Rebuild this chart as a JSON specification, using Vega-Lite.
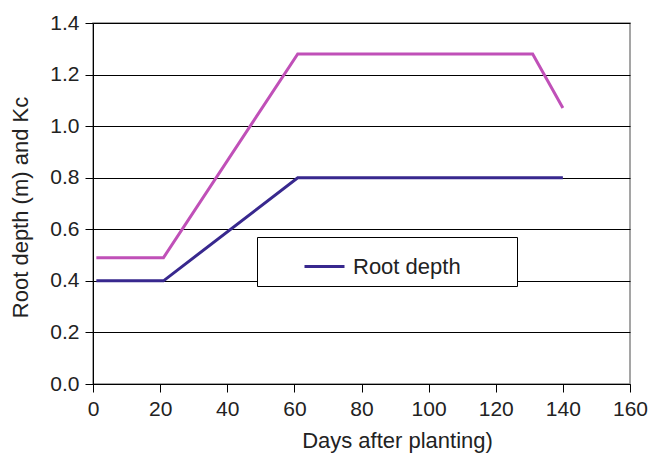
{
  "$schema": "https://vega.github.io/schema/vega-lite/v6.json",
  "width": 537,
  "height": 361,
  "autosize": "none",
  "padding": {"left": 93, "top": 23, "right": 21, "bottom": 73},
  "background": "white",
  "config": {
    "font": "Liberation Sans",
    "view": {"stroke": "#888888", "strokeWidth": 1.5},
    "axis": {"labelFont": "Liberation Sans", "titleFont": "Liberation Sans", "labelColor": "#222", "titleColor": "#222", "titleFontWeight": "normal"}
  },
  "data": {
    "values": [
      {"day": 1, "value": 0.4, "series": "Root depth"},
      {"day": 21, "value": 0.4, "series": "Root depth"},
      {"day": 61, "value": 0.8, "series": "Root depth"},
      {"day": 140, "value": 0.8, "series": "Root depth"},
      {"day": 1, "value": 0.49, "series": "Kc"},
      {"day": 21, "value": 0.49, "series": "Kc"},
      {"day": 61, "value": 1.28, "series": "Kc"},
      {"day": 131, "value": 1.28, "series": "Kc"},
      {"day": 140, "value": 1.07, "series": "Kc"}
    ]
  },
  "mark": {"type": "line", "strokeWidth": 3, "strokeCap": "butt", "strokeJoin": "miter"},
  "encoding": {
    "x": {
      "field": "day", "type": "quantitative",
      "scale": {"domain": [0, 160], "nice": false},
      "axis": {
        "values": [0, 20, 40, 60, 80, 100, 120, 140, 160],
        "title": "Days after planting)",
        "titleFontSize": 22, "labelFontSize": 21,
        "labelFlush": false, "labelOverlap": false,
        "grid": false, "domainColor": "#000", "tickColor": "#000", "tickSize": 8,
        "labelPadding": 6, "titlePadding": 11, "titleX": 304, "titleAlign": "center"
      }
    },
    "y": {
      "field": "value", "type": "quantitative",
      "scale": {"domain": [0, 1.4], "nice": false},
      "axis": {
        "values": [0, 0.2, 0.4, 0.6, 0.8, 1.0, 1.2, 1.4],
        "format": ".1f",
        "title": "Root depth (m) and Kc",
        "titleFontSize": 22, "labelFontSize": 21,
        "labelFlush": false, "labelOverlap": false,
        "grid": true, "gridColor": "#000", "gridWidth": 1.2,
        "domainColor": "#000", "tickColor": "#000", "tickSize": 8,
        "labelPadding": 6, "titlePadding": 17, "titleY": 184
      }
    },
    "color": {
      "field": "series", "type": "nominal",
      "scale": {"domain": ["Root depth", "Kc"], "range": ["#38288E", "#C050B8"]},
      "legend": {
        "values": ["Root depth"],
        "title": null,
        "orient": "none",
        "legendX": 164,
        "legendY": 214,
        "strokeColor": "#000",
        "fillColor": "white",
        "padding": 8,
        "symbolType": "stroke",
        "symbolSize": 1600,
        "symbolStrokeWidth": 3,
        "symbolOffset": 38,
        "labelOffset": 7,
        "labelFontSize": 22,
        "labelLimit": 400,
        "labelColor": "#222",
        "labelExpr": "datum.label + '\u2800\u2800\u2800'"
      }
    }
  }
}
